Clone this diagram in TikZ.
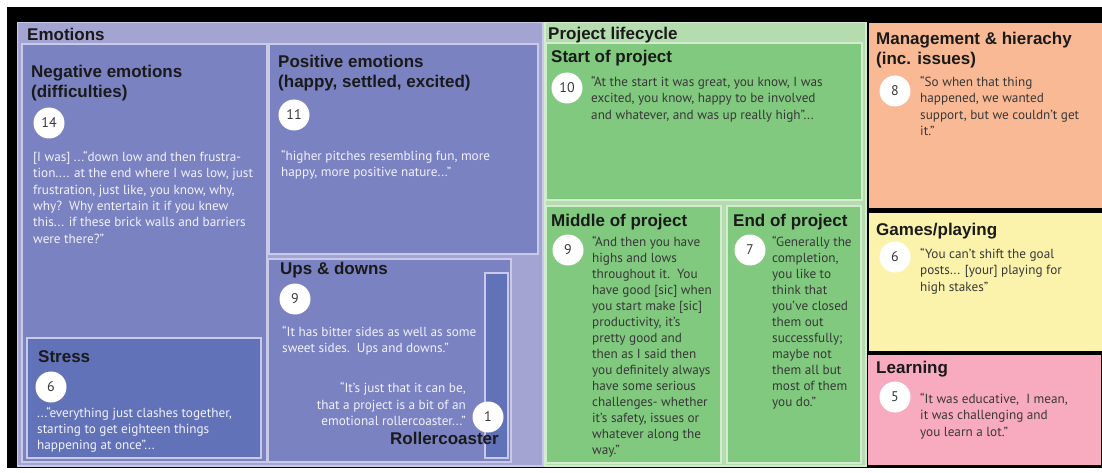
\documentclass[tikz,border=0pt]{standalone}
\usepackage{fontspec}
\setmainfont{PT Sans}
\newfontfamily\hfont{Liberation Sans}
\definecolor{emoBand}{HTML}{A4A4D2}
\definecolor{emoBox}{HTML}{7A82C2}
\definecolor{emoDark}{HTML}{6272B9}
\definecolor{emoLine}{HTML}{C9C9EA}
\definecolor{lifeBand}{HTML}{B4DCAE}
\definecolor{lifeBox}{HTML}{80C97E}
\definecolor{lifeLine}{HTML}{D3EBCF}
\definecolor{mgmt}{HTML}{F9B994}
\definecolor{games}{HTML}{FBF3AC}
\definecolor{learn}{HTML}{F8AABF}
\definecolor{txtDark}{HTML}{383838}
\definecolor{txtLight}{HTML}{F2F2FA}
\definecolor{ttl}{HTML}{1A1A1A}
\tikzset{
  emobox/.style={fill=emoBox, draw=emoLine, line width=1.6pt},
  emodark/.style={fill=emoDark, draw=emoLine, line width=1.6pt},
  lifebox/.style={fill=lifeBox, draw=lifeLine, line width=1.6pt},
  ttlnode/.style={font=\hfont\bfseries\fontsize{17}{19.5}\selectfont, text=ttl, inner sep=0pt, anchor=base west, align=left},
  quote/.style={font=\fontsize{13.2}{16.3}\selectfont, inner sep=0pt, anchor=base west, align=left},
  quotetight/.style={font=\fontsize{13.2}{16}\selectfont},
  qlight/.style={quote, text=txtLight},
  qdark/.style={quote, text=txtDark},
  num/.style={circle, fill=white, minimum size=31pt, inner sep=0pt, text=txtDark, font=\fontsize{14}{16}\selectfont}
}
\begin{document}
\begin{tikzpicture}[x=1pt, y=-1pt]
\useasboundingbox (0,0) rectangle (1102,473);
\fill[white] (0,0) rectangle (1102,473);
\fill[black] (7,7) rectangle (1102,468);
% Emotions
\path[fill=emoBand, draw=emoLine, line width=1.2pt] (17.5,22.5) rectangle (543,466);
\path[emobox] (22,44) rectangle (267,462);
\path[emobox] (269,44) rectangle (538,254);
\path[emobox] (268,259) rectangle (511,462);
\path[emodark] (485,273) rectangle (508,458);
\path[emodark] (27,338) rectangle (261,458);
% Project lifecycle
\path[fill=lifeBand, draw=lifeLine, line width=1.2pt] (545,22.5) rectangle (866,466);
\path[lifebox] (546.5,43) rectangle (862,200);
\path[lifebox] (546.5,206) rectangle (721,463);
\path[lifebox] (727,206) rectangle (861,463);
% Right column
\fill[mgmt] (869,23) rectangle (1102,208);
\fill[games] (869,213) rectangle (1102,351);
\fill[learn] (868,355) rectangle (1101,465);

% Titles (anchor = baseline of the last line)
\node[ttlnode] (tEmo) at (27,41) {Emotions};
\node[ttlnode] (tNeg) at (31,97.5) {Negative emotions\\(difficulties)};
\node[ttlnode] (tPos) at (278,87.5) {Positive emotions\\(happy, settled, excited)};
\node[ttlnode] (tUps) at (280,274) {Ups \& downs};
\node[ttlnode] (tStr) at (38,362) {Stress};
\node[ttlnode, anchor=base east] (tRol) at (499,444) {Rollercoaster};
\node[ttlnode] (tLife) at (548,40) {Project lifecycle};
\node[ttlnode] (tSta) at (551,63) {Start of project};
\node[ttlnode] (tMid) at (551,226) {Middle of project};
\node[ttlnode] (tEnd) at (733,226) {End of project};
\node[ttlnode] (tMan) at (876,64.5) {Management \& hierachy\\(inc. issues)};
\node[ttlnode] (tGam) at (876,235) {Games/playing};
\node[ttlnode] (tLea) at (876,373) {Learning};

% Counts
\node[num] (cNeg) at (49,123) {14};
\node[num] (cPos) at (294,115) {11};
\node[num] (cUps) at (295,299) {9};
\node[num] (cStr) at (51,387) {6};
\node[num] (cRol) at (488,417) {1};
\node[num] (cSta) at (567,88) {10};
\node[num] (cMid) at (568,250) {9};
\node[num] (cEnd) at (750,250) {7};
\node[num] (cMan) at (895,91) {8};
\node[num] (cGam) at (895,257) {6};
\node[num] (cLea) at (895,397) {5};

% Quotes (anchor = baseline of the last line)
\node[qlight] (qNeg) at (33,243) {[I was] ...“down low and then frustra-\\tion.... at the end where I was low, just\\frustration, just like, you know, why,\\why?\ \ Why entertain it if you knew\\this... if these brick walls and barriers\\were there?”};
\node[qlight] (qPos) at (281,176.8) {“higher pitches resembling fun, more\\happy, more positive nature...”};
\node[qlight] (qUps) at (282,352.8) {“It has bitter sides as well as some\\sweet sides.\ \ Ups and downs.”};
\node[qlight, anchor=base east, align=right] (qRol) at (466,425.5) {“It's just that it can be,\\that a project is a bit of an\\emotional rollercoaster...”};
\node[qlight, quotetight] (qStr) at (37,449.5) {...“everything just clashes together,\\starting to get eighteen things\\happening at once”...};
\node[qdark] (qSta) at (591,119.1) {“At the start it was great, you know, I was\\excited, you know, happy to be involved\\and whatever, and was up really high”...};
\node[qdark, quotetight] (qMid) at (592,454.5) {“And then you have\\highs and lows\\throughout it.\ \ You\\have good [sic] when\\you start make [sic]\\productivity, it's\\pretty good and\\then as I said then\\you definitely always\\have some serious\\challenges- whether\\it's safety, issues or\\whatever along the\\way.”};
\node[qdark, quotetight] (qEnd) at (772,406.5) {“Generally the\\completion,\\you like to\\think that\\you've closed\\them out\\successfully;\\maybe not\\them all but\\most of them\\you do.”};
\node[qdark] (qMan) at (920,135.4) {“So when that thing\\happened, we wanted\\support, but we couldn't get\\it.”};
\node[qdark] (qGam) at (920,291.1) {“You can't shift the goal\\posts... [your] playing for\\high stakes”};
\node[qdark] (qLea) at (920,436.1) {“It was educative,\ \ I mean,\\it was challenging and\\you learn a lot.”};
\end{tikzpicture}
\end{document}
